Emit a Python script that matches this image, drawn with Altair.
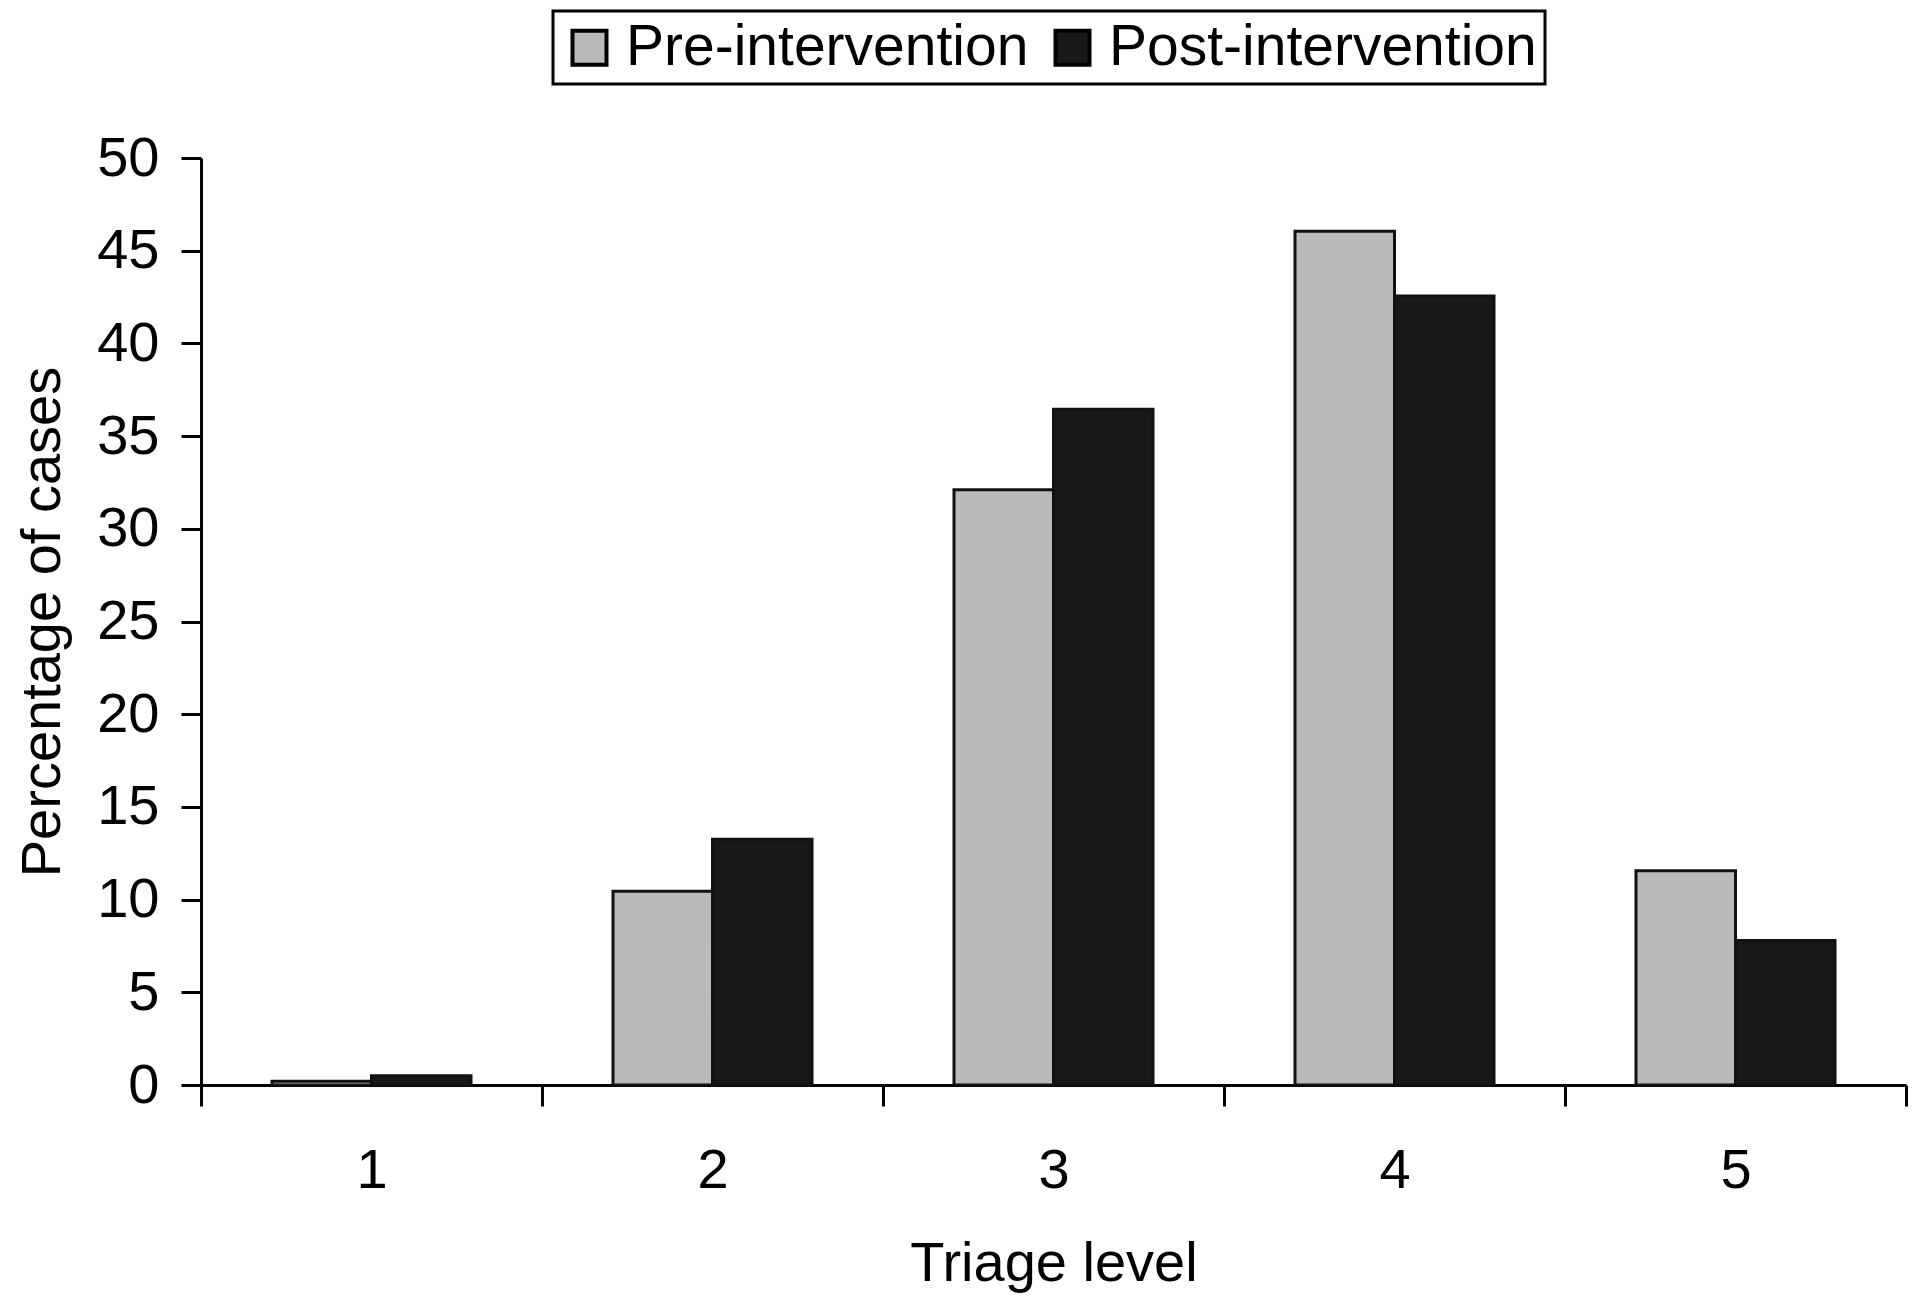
import altair as alt
import pandas as pd

levels = ["1", "2", "3", "4", "5"]
series = ["Pre-intervention", "Post-intervention"]
pre = [0.2, 10.45, 32.1, 46.05, 11.55]
post = [0.5, 13.25, 36.45, 42.55, 7.8]
colors = ["#bababa", "#181818"]
y_ticks = [0, 5, 10, 15, 20, 25, 30, 35, 40, 45, 50]

rows = []
for i, lv in enumerate(levels):
    rows.append({"level": lv, "series": series[0], "value": pre[i]})
    rows.append({"level": lv, "series": series[1], "value": post[i]})
df = pd.DataFrame(rows)

FONT = "Liberation Sans"
FS = 56

chart = alt.Chart(df).mark_bar(stroke="#111111", strokeWidth=3).encode(
    x=alt.X(
        "level:N", sort=levels, title="Triage level",
        scale=alt.Scale(paddingInner=0, paddingOuter=0),
        axis=alt.Axis(
            labelAngle=0, tickBand="extent", ticks=True, tickSize=21, tickWidth=3,
            tickColor="black", domainColor="black", domainWidth=3,
            labelPadding=37, labelFontSize=FS, labelColor="black", labelFont=FONT,
            titleFont=FONT, titleFontSize=FS, titleFontWeight="normal", titleColor="black",
            titleY=195, titleBaseline="alphabetic", grid=False,
        ),
    ),
    xOffset=alt.XOffset(
        "series:N", sort=series,
        scale=alt.Scale(domain=series, paddingOuter=0.7136, paddingInner=0),
    ),
    y=alt.Y(
        "value:Q", title="Percentage of cases",
        scale=alt.Scale(domain=[0, 50], nice=False),
        axis=alt.Axis(
            values=y_ticks, tickSize=20, tickWidth=3, tickColor="black",
            domainColor="black", domainWidth=3, labelPadding=22,
            labelFontSize=FS, labelColor="black", labelFont=FONT,
            titleFont=FONT, titleFontSize=FS, titleFontWeight="normal", titleColor="black",
            titleX=-142, titleY=463.5, titleAngle=270, titleBaseline="alphabetic",
            grid=False,
        ),
    ),
    color=alt.Color(
        "series:N", sort=series,
        scale=alt.Scale(domain=series, range=colors),
        legend=alt.Legend(
            title=None, orient="none", direction="horizontal",
            legendX=352, legendY=-147,
            symbolType="square", symbolSize=1156, symbolStrokeColor="black",
            symbolStrokeWidth=4, symbolOpacity=1,
            labelFont=FONT, labelFontSize=57, labelColor="black", labelLimit=1000,
            labelOffset=8, columnPadding=15, padding=8,
            strokeColor="black", fillColor="white",
        ),
    ),
).properties(
    width=1705, height=927,
    padding={"left": 193, "top": 150, "right": 4, "bottom": 209},
    autosize=alt.AutoSizeParams(type="none"),
).configure_view(stroke=None).configure_legend(strokeWidth=3)

chart.save("out.html", embed_options={"renderer": "svg", "actions": False})
